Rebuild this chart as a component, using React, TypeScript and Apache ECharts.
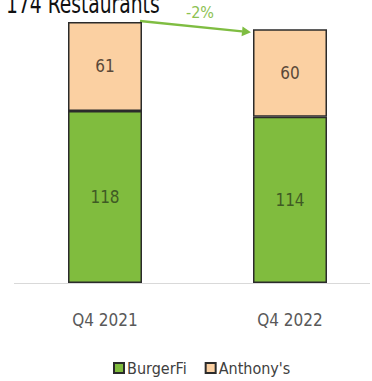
import React, { useEffect, useRef } from "react";
import * as echarts from "echarts";

const categories = ["Q4 2021", "Q4 2022"];
const burgerFi = [118, 114];
const anthonys = [61, 60];
const changeLabel = "-2%";
const title = "174 Restaurants";

const FONT = "'DejaVu Sans Condensed', 'Liberation Sans Narrow', sans-serif";

export default function App() {
  const ref = useRef<HTMLDivElement>(null);
  useEffect(() => {
    if (!ref.current) return;
    const chart = echarts.init(ref.current, null, { renderer: "svg" });
    const totals = burgerFi.map((v, i) => v + anthonys[i]);
    chart.setOption({
      animation: false,
      textStyle: { fontFamily: FONT },
      grid: { left: 105, width: 185, top: 22, height: 261 },
      legend: {
        top: 355,
        left: 108,
        itemWidth: 10,
        itemHeight: 10,
        itemGap: 18,
        icon: "rect",
        textStyle: { fontSize: 16, color: "#404040", fontFamily: FONT, padding: [0, 0, 0, -2] },
        data: ["BurgerFi", "Anthony's"],
      },
      xAxis: {
        type: "category",
        data: categories,
        boundaryGap: false,
        axisTick: { show: false },
        axisLine: { show: false },
        axisLabel: { fontSize: 17, color: "#595959", margin: 28, fontFamily: FONT },
      },
      yAxis: {
        type: "value",
        min: 0,
        max: Math.max(...totals),
        show: false,
        splitLine: { show: false },
      },
      series: [
        {
          name: "BurgerFi",
          type: "bar",
          stack: "a",
          clip: false,
          data: burgerFi,
          barWidth: 74,
          itemStyle: { color: "#80bc3e", borderColor: "#2b2b2b", borderWidth: 1.5 },
          label: { show: true, position: "inside", fontSize: 17, color: "#3f5a24", fontFamily: FONT },
        },
        {
          name: "Anthony's",
          type: "bar",
          stack: "a",
          clip: false,
          data: anthonys,
          barWidth: 74,
          itemStyle: { color: "#fbd0a2", borderColor: "#2b2b2b", borderWidth: 1.5 },
          label: { show: true, position: "inside", fontSize: 17, color: "#5a4838", fontFamily: FONT },
        },
      ],
    });

    const p0 = chart.convertToPixel({ gridIndex: 0 }, [0, 0]) as number[];
    const p1 = chart.convertToPixel({ gridIndex: 0 }, [0, totals[0]]) as number[];
    const p2 = chart.convertToPixel({ gridIndex: 0 }, [1, totals[1]]) as number[];
    const x1 = p1[0] + 35;
    const y1 = p1[1] - 1;
    const x2 = p2[0] - 39;
    const y2 = p2[1] + 3;
    const ang = Math.atan2(y2 - y1, x2 - x1);
    const ah = 9;
    const aw = 5;
    const bx = x2 - ah * Math.cos(ang);
    const by = y2 - ah * Math.sin(ang);
    chart.setOption({
      graphic: [
        {
          type: "line",
          z: 0,
          shape: { x1: 14, y1: p0[1] + 0.5, x2: 370, y2: p0[1] + 0.5 },
          style: { stroke: "#d9d9d9", lineWidth: 1 },
        },
        {
          type: "text",
          x: 6,
          y: 17,
          scaleX: 0.8,
          style: { text: title, fontSize: 26, fill: "#111", fontFamily: FONT, verticalAlign: "bottom" },
        },
        {
          type: "line",
          shape: { x1, y1, x2: bx, y2: by },
          style: { stroke: "#7fbd42", lineWidth: 2.5 },
        },
        {
          type: "polygon",
          shape: {
            points: [
              [x2, y2],
              [bx - aw * Math.sin(ang), by + aw * Math.cos(ang)],
              [bx + aw * Math.sin(ang), by - aw * Math.cos(ang)],
            ],
          },
          style: { fill: "#7fbd42" },
        },
        {
          type: "text",
          x: 200,
          y: 12,
          style: {
            text: changeLabel,
            fontSize: 16,
            fill: "#8cc152",
            align: "center",
            verticalAlign: "middle",
            fontFamily: FONT,
          },
        },
      ],
    });
    return () => chart.dispose();
  }, []);
  return <div ref={ref} style={{ width: 372, height: 381, position: "absolute", left: 0, top: 0 }} />;
}
